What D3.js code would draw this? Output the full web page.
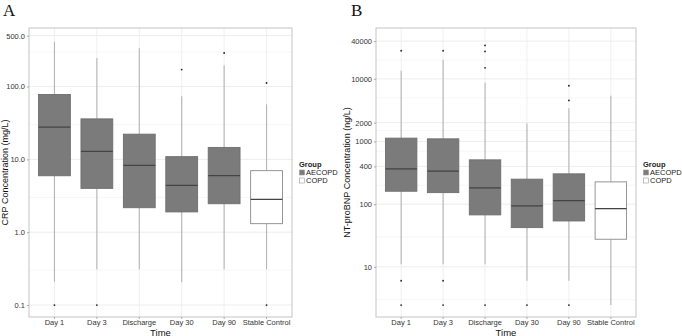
<!DOCTYPE html>
<html>
<head>
<meta charset="utf-8">
<script src="https://cdn.jsdelivr.net/npm/d3@7"></script>
<style>
  body { margin: 0; background: #fff; }
  svg { display: block; font-family: "Liberation Sans", Arial, sans-serif; }
</style>
</head>
<body>
<svg id="chart" width="682" height="336"></svg>
<script>
const categories = ['Day 1', 'Day 3', 'Discharge', 'Day 30', 'Day 90', 'Stable Control']
const groups = ['AECOPD', 'AECOPD', 'AECOPD', 'AECOPD', 'AECOPD', 'COPD']
const groupNames = ['AECOPD', 'COPD']

// CRP (mg/L): [lower whisker, q1, median, q3, upper whisker]
const crpStats = [
  [0.21, 5.96, 27.7, 77.7, 413],
  [0.31, 4.0, 12.9, 36, 246],
  [0.31, 2.17, 8.3, 22.2, 335],
  [0.206, 1.9, 4.4, 10.9, 73.6],
  [0.31, 2.46, 6.0, 14.6, 194],
  [0.31, 1.31, 2.83, 7.0, 57]
]
const crpOutliers = [[0.1], [0.1], [], [171], [289], [112, 0.1]]
const crpTicks = [0.1, 1, 10, 100, 500]
const crpTickLabels = ['0.1', '1.0', '10.0', '100.0', '500.0']

// NT-proBNP (ng/L)
const bnpStats = [
  [11, 161, 366, 1133, 13500],
  [11, 153, 337, 1104, 20200],
  [11, 67.5, 182, 510, 8660],
  [6.0, 42.3, 94, 251, 1940],
  [6.0, 54, 114, 305, 3410],
  [2.46, 27.6, 85, 227, 5370]
]
const bnpOutliers = [[28100, 6.0, 2.46], [28100, 6.0, 2.46], [34200, 27400, 15000, 2.46], [2.46], [7760, 4520, 2.46], []]
const bnpTicks = [10, 100, 400, 1000, 2000, 10000, 40000]
const bnpTickLabels = ['10', '100', '400', '1000', '2000', '10000', '40000']

const svg = d3.select('#chart')
const fills = {AECOPD: '#7b7b7b', COPD: '#ffffff'}

function drawPanel(cfg) {
  let {left, right, top, bottom, domain, stats, outliers, ticks, tickLabels, minor, yTitle, letter, letterX} = cfg
  let g = svg.append('g')

  let x = d3.scaleBand().domain(categories).range([left, right]).paddingOuter(0.1).paddingInner(0)
  let y = d3.scaleLog().domain(domain).range([bottom, top])
  let bw = x.bandwidth()
  let cx = c => x(c) + bw / 2

  // grid
  g.selectAll('.minor').data(minor).enter().append('line')
    .attr('x1', left).attr('x2', right)
    .attr('y1', d => y(d)).attr('y2', d => y(d))
    .attr('stroke', '#f2f2f2').attr('stroke-width', 0.6)
  g.selectAll('.major').data(ticks).enter().append('line')
    .attr('x1', left).attr('x2', right)
    .attr('y1', d => y(d)).attr('y2', d => y(d))
    .attr('stroke', '#e8e8e8').attr('stroke-width', 0.8)
  g.selectAll('.vgrid').data(categories).enter().append('line')
    .attr('x1', cx).attr('x2', cx)
    .attr('y1', top).attr('y2', bottom)
    .attr('stroke', '#ececec').attr('stroke-width', 0.8)

  // boxes
  let boxW = bw * 0.75
  categories.forEach((c, i) => {
    let [lo, q1, med, q3, hi] = stats[i]
    let fill = fills[groups[i]]
    g.append('line').attr('x1', cx(c)).attr('x2', cx(c))
      .attr('y1', y(hi)).attr('y2', y(q3)).attr('stroke', '#b5b5b5').attr('stroke-width', 1.1)
    g.append('line').attr('x1', cx(c)).attr('x2', cx(c))
      .attr('y1', y(q1)).attr('y2', y(lo)).attr('stroke', '#b5b5b5').attr('stroke-width', 1.1)
    g.append('rect').attr('x', cx(c) - boxW / 2).attr('width', boxW)
      .attr('y', y(q3)).attr('height', y(q1) - y(q3))
      .attr('fill', fill).attr('stroke', groups[i] === 'COPD' ? '#8a8a8a' : '#6e6e6e').attr('stroke-width', 0.9)
    g.append('line').attr('x1', cx(c) - boxW / 2).attr('x2', cx(c) + boxW / 2)
      .attr('y1', y(med)).attr('y2', y(med)).attr('stroke', '#444').attr('stroke-width', 1.3)
    g.selectAll(null).data(outliers[i]).enter().append('circle')
      .attr('cx', cx(c)).attr('cy', d => y(d)).attr('r', 0.9).attr('fill', '#222')
  })

  // border
  g.append('rect').attr('x', left).attr('y', top)
    .attr('width', right - left).attr('height', bottom - top)
    .attr('fill', 'none').attr('stroke', '#c4c4c4').attr('stroke-width', 1)

  // axes
  let yAxis = d3.axisLeft(y).tickValues(ticks).tickFormat((d, i) => tickLabels[i]).tickSize(2).tickPadding(2)
  let yg = g.append('g').attr('transform', `translate(${left},0)`).call(yAxis)
  let xAxis = d3.axisBottom(x).tickSize(2).tickPadding(1)
  let xg = g.append('g').attr('transform', `translate(0,${bottom})`).call(xAxis)
  ;[yg, xg].forEach(a => {
    a.select('.domain').remove()
    a.selectAll('.tick line').attr('stroke', '#aaa')
    a.selectAll('.tick text').attr('fill', '#333').attr('font-size', 7.5)
      .attr('font-family', '"Liberation Sans", Arial, sans-serif')
  })

  g.append('text').attr('x', (left + right) / 2).attr('y', 335.5)
    .attr('text-anchor', 'middle').attr('font-size', 9.5).attr('fill', '#111').text('Time')
  g.append('text').attr('transform', `translate(${cfg.yTitleX},${(top + bottom) / 2}) rotate(-90)`)
    .attr('text-anchor', 'middle').attr('font-size', 9).attr('fill', '#111').text(yTitle)

  g.append('text').attr('x', letterX).attr('y', 16)
    .attr('font-family', '"Liberation Serif", "Times New Roman", serif')
    .attr('font-size', 17).attr('fill', '#111').text(letter)

  // legend
  let lx = right + 7
  g.append('text').attr('x', lx).attr('y', 167).attr('font-size', 7.5)
    .attr('font-weight', 'bold').attr('fill', '#222').text('Group')
  groupNames.forEach((name, i) => {
    let ly = 170 + i * 8
    g.append('rect').attr('x', lx + 0.5).attr('y', ly).attr('width', 5).attr('height', 5)
      .attr('fill', fills[name]).attr('stroke', '#9a9a9a').attr('stroke-width', 0.6)
    g.append('text').attr('x', lx + 7).attr('y', ly + 5).attr('font-size', 7.5)
      .attr('fill', '#222').text(name)
  })
}

drawPanel({
  left: 29, right: 292, top: 28, bottom: 317,
  domain: [0.0685, 637],
  stats: crpStats, outliers: crpOutliers,
  ticks: crpTicks, tickLabels: crpTickLabels,
  minor: [0.3, 3, 30, 300],
  yTitle: 'CRP Concentration (mg/L)', yTitleX: 8,
  letter: 'A', letterX: 3
})

drawPanel({
  left: 376, right: 636, top: 28, bottom: 317,
  domain: [1.585, 64800],
  stats: bnpStats, outliers: bnpOutliers,
  ticks: bnpTicks, tickLabels: bnpTickLabels,
  minor: [3, 30, 200, 700, 1500, 5000, 20000],
  yTitle: 'NT-proBNP Concentration (ng/L)', yTitleX: 350,
  letter: 'B', letterX: 351
})
</script>
</body>
</html>
